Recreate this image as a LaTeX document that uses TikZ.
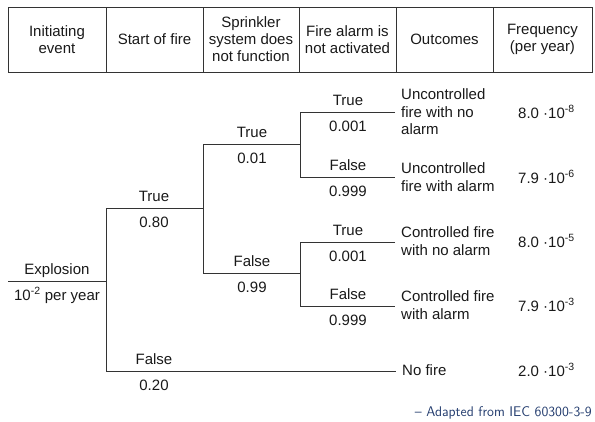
\documentclass[tikz,border=0pt]{standalone}
\usepackage{fontspec}
\setmainfont{Liberation Sans}
\definecolor{capblue}{RGB}{35,60,110}
\definecolor{txt}{RGB}{25,25,25}
\begin{document}
\begin{tikzpicture}[x=1pt,y=-1pt,
  ln/.style={draw=black!80, line width=0.8pt},
  mainfont/.style={font=\fontsize{15}{17.5}\selectfont, text=txt},
  lbl/.style={mainfont, anchor=base, inner sep=0pt},
  hdr/.style={mainfont, align=center, inner sep=0pt, font=\fontsize{15}{17}\selectfont},
  outc/.style={mainfont, anchor=west, align=left, inner sep=0pt},
  freq/.style={mainfont, anchor=west, inner sep=0pt}]
\useasboundingbox (0,0) rectangle (595,421);
% header
\draw[ln] (8,7) rectangle (592,72);
\foreach \x in {106,203,299,396,493} \draw[ln] (\x,7) -- (\x,72);
\node[hdr] (h1) at (57,39.5) {Initiating\\event};
\node[hdr] (h2) at (154.5,39.5) {Start of fire};
\node[hdr] (h3) at (251,39.5) {Sprinkler\\system does\\not function};
\node[hdr] (h4) at (347.5,39.5) {Fire alarm is\\not activated};
\node[hdr] (h5) at (444.5,39.5) {Outcomes};
\node[hdr] (h6) at (542.5,39.5) {Frequency\\(per year)};
% tree coordinates
\coordinate (e0) at (8,281);
\coordinate (e1) at (106,281);
\coordinate (a1) at (106,208);
\coordinate (a2) at (203,208);
\coordinate (b1) at (106,371);
\coordinate (c1) at (203,144);
\coordinate (c2) at (300,144);
\coordinate (d1) at (203,273);
\coordinate (d2) at (300,273);
\coordinate (c11) at (300,112);
\coordinate (c21) at (300,177);
\coordinate (d11) at (300,242);
\coordinate (d21) at (300,306);
% outcomes
\node[outc] (o1) at (401,112) {Uncontrolled\\fire with no\\alarm};
\node[outc] (o2) at (401,177) {Uncontrolled\\fire with alarm};
\node[outc] (o3) at (401,241) {Controlled fire\\with no alarm};
\node[outc] (o4) at (401,305) {Controlled fire\\with alarm};
\node[outc] (o5) at (402,370) {No fire};
% frequencies
\node[freq] (f1) at (518,112) {8.0 ·10\textsuperscript{-8}};
\node[freq] (f2) at (518,177) {7.9 ·10\textsuperscript{-6}};
\node[freq] (f3) at (518,241) {8.0 ·10\textsuperscript{-5}};
\node[freq] (f4) at (518,305) {7.9 ·10\textsuperscript{-3}};
\node[freq] (f5) at (518,370) {2.0 ·10\textsuperscript{-3}};
% branches
\draw[ln] (e0) -- (e1);
\draw[ln] (a2) -- (a1) -- (b1) -- ([xshift=-6pt]o5.west |- b1);
\draw[ln] (c2) -- (c1) -- (d1) -- (d2);
\draw[ln] ([xshift=-6pt]o1.west |- c11) -- (c11) -- (c21) -- ([xshift=-6pt]o2.west |- c21);
\draw[ln] ([xshift=-6pt]o3.west |- d11) -- (d11) -- (d21) -- ([xshift=-6pt]o4.west |- d21);
% labels
\node[lbl] (l0a) at (57,274) {Explosion};
\node[lbl] (l0b) at (57,300) {10\textsuperscript{-2} per year};
\node[lbl] (l1a) at (154,201) {True};
\node[lbl] (l1b) at (154,227) {0.80};
\node[lbl] (l1c) at (154,364) {False};
\node[lbl] (l1d) at (154,390) {0.20};
\node[lbl] (l2a) at (252,137) {True};
\node[lbl] (l2b) at (252,163) {0.01};
\node[lbl] (l2c) at (252,266) {False};
\node[lbl] (l2d) at (252,292) {0.99};
\node[lbl] (l3a) at (348,105) {True};
\node[lbl] (l3b) at (348,131) {0.001};
\node[lbl] (l3c) at (348,170) {False};
\node[lbl] (l3d) at (348,196) {0.999};
\node[lbl] (l3e) at (348,235) {True};
\node[lbl] (l3f) at (348,261) {0.001};
\node[lbl] (l3g) at (348,299) {False};
\node[lbl] (l3h) at (348,325) {0.999};
% caption
\node[anchor=base east, inner sep=0pt, text=capblue, font=\sffamily\fontsize{14}{16}\selectfont] (cap) at (592,416) {– Adapted from IEC 60300-3-9};
\end{tikzpicture}
\end{document}
